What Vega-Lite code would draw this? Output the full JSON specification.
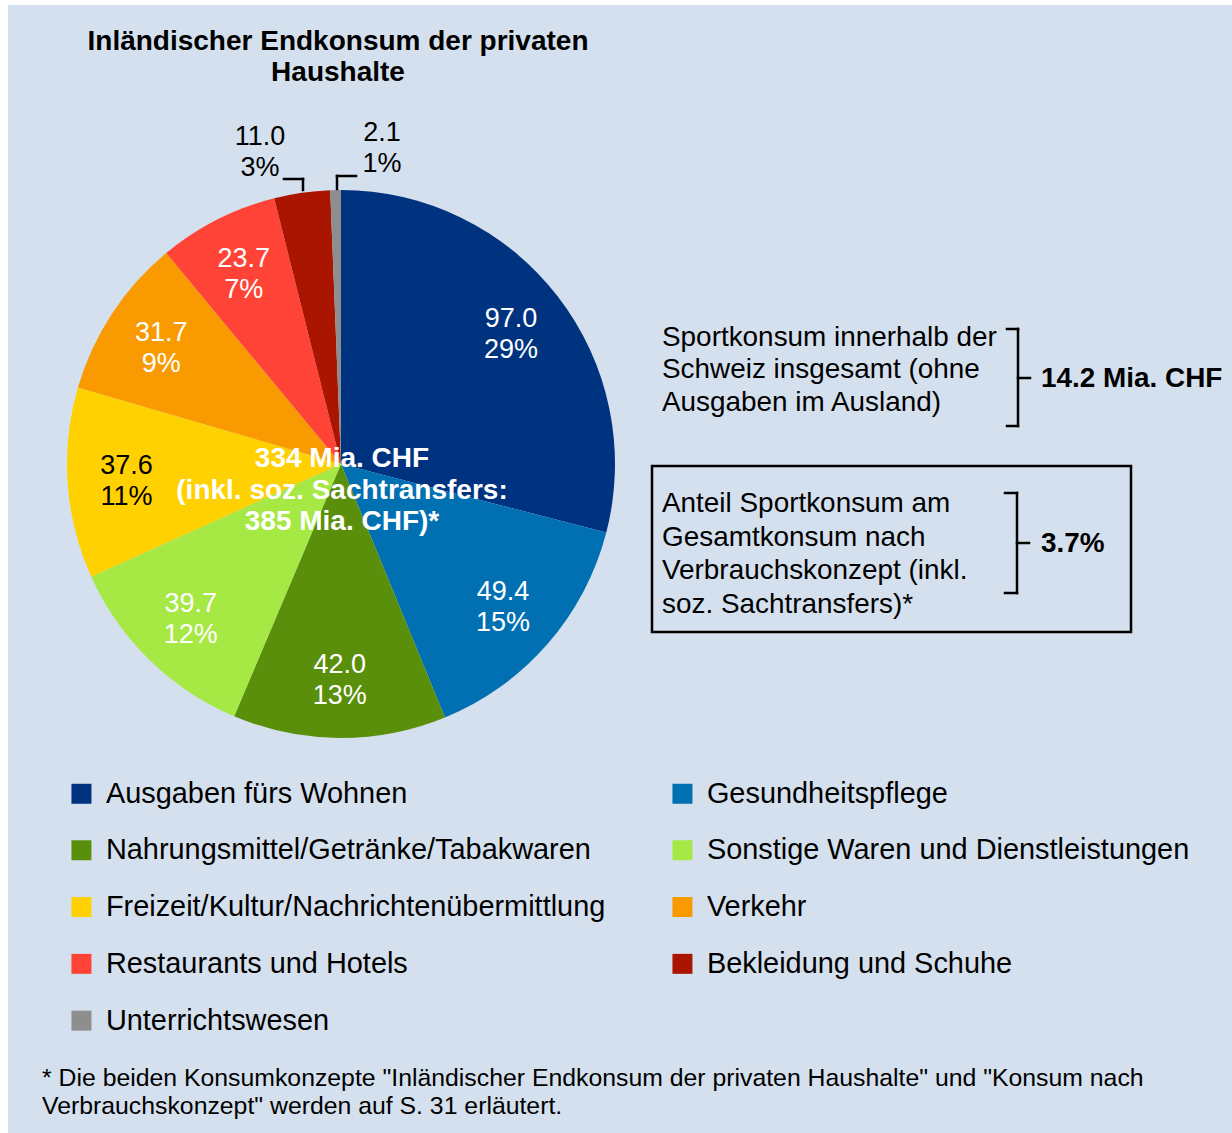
{
  "$schema": "https://vega.github.io/schema/vega-lite/v6.json",
  "width": 1224,
  "height": 1128,
  "padding": {"left": 8, "top": 5, "right": 0, "bottom": 0},
  "autosize": {"type": "none"},
  "background": "white",
  "view": {"fill": "#d5e0ee", "stroke": null},
  "config": {"font": "Liberation Sans", "text": {"font": "Liberation Sans"}},
  "data": {
    "values": [
      {"category": "Ausgaben fürs Wohnen", "value": 97.0, "label": "97.0\n29%", "rank": 1},
      {"category": "Gesundheitspflege", "value": 49.4, "label": "49.4\n15%", "rank": 2},
      {"category": "Nahrungsmittel/Getränke/Tabakwaren", "value": 42.0, "label": "42.0\n13%", "rank": 3},
      {"category": "Sonstige Waren und Dienstleistungen", "value": 39.7, "label": "39.7\n12%", "rank": 4},
      {"category": "Freizeit/Kultur/Nachrichtenübermittlung", "value": 37.6, "label": "37.6\n11%", "rank": 5},
      {"category": "Verkehr", "value": 31.7, "label": "31.7\n9%", "rank": 6},
      {"category": "Restaurants und Hotels", "value": 23.7, "label": "23.7\n7%", "rank": 7},
      {"category": "Bekleidung und Schuhe", "value": 11.0, "label": "11.0\n3%", "rank": 8},
      {"category": "Unterrichtswesen", "value": 2.1, "label": "2.1\n1%", "rank": 9}
    ]
  },
  "layer": [
    {
      "mark": {"type": "arc", "radius": 274},
      "encoding": {
        "x": {"datum": 341, "type": "quantitative", "scale": {"domain": [8, 1232], "nice": false, "zero": false}, "axis": null},
        "y": {"datum": 464, "type": "quantitative", "scale": {"domain": [5, 1133], "nice": false, "zero": false, "reverse": true}, "axis": null},
        "theta": {"field": "value", "type": "quantitative", "stack": true},
        "order": {"field": "rank", "type": "quantitative"},
        "color": {
          "field": "category",
          "type": "nominal",
          "scale": {
            "domain": ["Ausgaben fürs Wohnen", "Nahrungsmittel/Getränke/Tabakwaren", "Freizeit/Kultur/Nachrichtenübermittlung", "Restaurants und Hotels", "Unterrichtswesen", "Gesundheitspflege", "Sonstige Waren und Dienstleistungen", "Verkehr", "Bekleidung und Schuhe"],
            "range": ["#00337f", "#5a8f0b", "#ffd100", "#ff4437", "#8e8e8e", "#0070b3", "#a6e844", "#f99a00", "#aa1500"]
          },
          "legend": {
            "orient": "none", "legendX": 59, "legendY": 774, "columns": 2, "columnPadding": 62, "rowPadding": 26.8,
            "symbolType": "square", "symbolSize": 400, "symbolStrokeWidth": 0, "symbolOpacity": 1,
            "labelFont": "Liberation Sans", "labelFontSize": 28.9, "labelColor": "black", "labelOffset": 10,
            "labelLimit": 1000, "title": null, "padding": 0
          }
        }
      }
    },
    {
      "mark": {"type": "text", "radius": 215, "fontSize": 27, "lineBreak": "\n", "lineHeight": 31, "align": "center", "baseline": "middle", "dy": -13.5},
      "encoding": {
        "x": {"datum": 341, "type": "quantitative", "axis": null},
        "y": {"datum": 464, "type": "quantitative", "axis": null},
        "theta": {"field": "value", "type": "quantitative", "stack": true},
        "order": {"field": "rank", "type": "quantitative"},
        "text": {"field": "label"},
        "color": {"condition": {"test": "datum.category === 'Freizeit/Kultur/Nachrichtenübermittlung'", "value": "black"}, "value": "white"},
        "opacity": {"condition": {"test": "datum.value < 15", "value": 0}, "value": 1}
      }
    },
    {
      "transform": [{"filter": "datum.category === 'Bekleidung und Schuhe'"}],
      "mark": {"type": "text", "fontSize": 27, "lineBreak": "\n", "lineHeight": 31, "align": "center", "baseline": "middle", "color": "black"},
      "encoding": {
        "x": {"datum": 260, "type": "quantitative", "axis": null},
        "y": {"datum": 137, "type": "quantitative", "axis": null},
        "text": {"field": "label"}
      }
    },
    {
      "transform": [{"filter": "datum.category === 'Unterrichtswesen'"}],
      "mark": {"type": "text", "fontSize": 27, "lineBreak": "\n", "lineHeight": 31.5, "align": "center", "baseline": "middle", "color": "black"},
      "encoding": {
        "x": {"datum": 382, "type": "quantitative", "axis": null},
        "y": {"datum": 132.5, "type": "quantitative", "axis": null},
        "text": {"field": "label"}
      }
    },
    {"data": {"values": [{}]}, "mark": {"type": "rule", "color": "black", "strokeWidth": 2.5, "strokeCap": "square"},
     "encoding": {"x": {"datum": 284, "type": "quantitative", "axis": null}, "x2": {"datum": 303}, "y": {"datum": 179, "type": "quantitative", "axis": null}}},
    {"data": {"values": [{}]}, "mark": {"type": "rule", "color": "black", "strokeWidth": 2.5, "strokeCap": "square"},
     "encoding": {"x": {"datum": 303, "type": "quantitative", "axis": null}, "y": {"datum": 179, "type": "quantitative", "axis": null}, "y2": {"datum": 190}}},
    {"data": {"values": [{}]}, "mark": {"type": "rule", "color": "black", "strokeWidth": 2.5, "strokeCap": "square"},
     "encoding": {"x": {"datum": 337, "type": "quantitative", "axis": null}, "y": {"datum": 176, "type": "quantitative", "axis": null}, "y2": {"datum": 189}}},
    {"data": {"values": [{}]}, "mark": {"type": "rule", "color": "black", "strokeWidth": 2.5, "strokeCap": "square"},
     "encoding": {"x": {"datum": 337, "type": "quantitative", "axis": null}, "x2": {"datum": 356}, "y": {"datum": 176, "type": "quantitative", "axis": null}}},
    {"data": {"values": [{"t": "Inländischer Endkonsum der privaten\nHaushalte"}]},
     "mark": {"type": "text", "fontSize": 28, "fontWeight": "bold", "lineBreak": "\n", "lineHeight": 31, "align": "center", "baseline": "middle", "color": "black"},
     "encoding": {"x": {"datum": 338, "type": "quantitative", "axis": null}, "y": {"datum": 42, "type": "quantitative", "axis": null}, "text": {"field": "t"}}},
    {"data": {"values": [{"t": "334 Mia. CHF\n(inkl. soz. Sachtransfers:\n385 Mia. CHF)*"}]},
     "mark": {"type": "text", "fontSize": 28, "fontWeight": "bold", "lineBreak": "\n", "lineHeight": 31.5, "align": "center", "baseline": "middle", "color": "white"},
     "encoding": {"x": {"datum": 342, "type": "quantitative", "axis": null}, "y": {"datum": 459, "type": "quantitative", "axis": null}, "text": {"field": "t"}}},
    {"data": {"values": [{"t": "Sportkonsum innerhalb der\nSchweiz insgesamt (ohne\nAusgaben im Ausland)"}]},
     "mark": {"type": "text", "fontSize": 27.9, "lineBreak": "\n", "lineHeight": 32.3, "align": "left", "baseline": "middle", "color": "black"},
     "encoding": {"x": {"datum": 662, "type": "quantitative", "axis": null}, "y": {"datum": 338, "type": "quantitative", "axis": null}, "text": {"field": "t"}}},
    {"data": {"values": [{"t": "14.2 Mia. CHF"}]},
     "mark": {"type": "text", "fontSize": 27.9, "fontWeight": "bold", "align": "left", "baseline": "middle", "color": "black"},
     "encoding": {"x": {"datum": 1041, "type": "quantitative", "axis": null}, "y": {"datum": 379, "type": "quantitative", "axis": null}, "text": {"field": "t"}}},
    {"data": {"values": [{}]}, "mark": {"type": "rect", "fillOpacity": 0, "stroke": "black", "strokeWidth": 2.5},
     "encoding": {"x": {"datum": 652, "type": "quantitative", "axis": null}, "x2": {"datum": 1131}, "y": {"datum": 466, "type": "quantitative", "axis": null}, "y2": {"datum": 632}}},
    {"data": {"values": [{"t": "Anteil Sportkonsum am\nGesamtkonsum nach\nVerbrauchskonzept (inkl.\nsoz. Sachtransfers)*"}]},
     "mark": {"type": "text", "fontSize": 27.9, "lineBreak": "\n", "lineHeight": 33.7, "align": "left", "baseline": "middle", "color": "black"},
     "encoding": {"x": {"datum": 662, "type": "quantitative", "axis": null}, "y": {"datum": 504, "type": "quantitative", "axis": null}, "text": {"field": "t"}}},
    {"data": {"values": [{"t": "3.7%"}]},
     "mark": {"type": "text", "fontSize": 27.9, "fontWeight": "bold", "align": "left", "baseline": "middle", "color": "black"},
     "encoding": {"x": {"datum": 1041, "type": "quantitative", "axis": null}, "y": {"datum": 544, "type": "quantitative", "axis": null}, "text": {"field": "t"}}},
    {"data": {"values": [{}]}, "mark": {"type": "rule", "color": "black", "strokeWidth": 2.5, "strokeCap": "square"},
     "encoding": {"x": {"datum": 1007, "type": "quantitative", "axis": null}, "x2": {"datum": 1018}, "y": {"datum": 329, "type": "quantitative", "axis": null}}},
    {"data": {"values": [{}]}, "mark": {"type": "rule", "color": "black", "strokeWidth": 2.5, "strokeCap": "square"},
     "encoding": {"x": {"datum": 1018, "type": "quantitative", "axis": null}, "y": {"datum": 329, "type": "quantitative", "axis": null}, "y2": {"datum": 426}}},
    {"data": {"values": [{}]}, "mark": {"type": "rule", "color": "black", "strokeWidth": 2.5, "strokeCap": "square"},
     "encoding": {"x": {"datum": 1007, "type": "quantitative", "axis": null}, "x2": {"datum": 1018}, "y": {"datum": 426, "type": "quantitative", "axis": null}}},
    {"data": {"values": [{}]}, "mark": {"type": "rule", "color": "black", "strokeWidth": 2.5, "strokeCap": "square"},
     "encoding": {"x": {"datum": 1018, "type": "quantitative", "axis": null}, "x2": {"datum": 1030}, "y": {"datum": 378, "type": "quantitative", "axis": null}}},
    {"data": {"values": [{}]}, "mark": {"type": "rule", "color": "black", "strokeWidth": 2.5, "strokeCap": "square"},
     "encoding": {"x": {"datum": 1005, "type": "quantitative", "axis": null}, "x2": {"datum": 1017}, "y": {"datum": 493, "type": "quantitative", "axis": null}}},
    {"data": {"values": [{}]}, "mark": {"type": "rule", "color": "black", "strokeWidth": 2.5, "strokeCap": "square"},
     "encoding": {"x": {"datum": 1017, "type": "quantitative", "axis": null}, "y": {"datum": 493, "type": "quantitative", "axis": null}, "y2": {"datum": 593}}},
    {"data": {"values": [{}]}, "mark": {"type": "rule", "color": "black", "strokeWidth": 2.5, "strokeCap": "square"},
     "encoding": {"x": {"datum": 1005, "type": "quantitative", "axis": null}, "x2": {"datum": 1017}, "y": {"datum": 593, "type": "quantitative", "axis": null}}},
    {"data": {"values": [{}]}, "mark": {"type": "rule", "color": "black", "strokeWidth": 2.5, "strokeCap": "square"},
     "encoding": {"x": {"datum": 1017, "type": "quantitative", "axis": null}, "x2": {"datum": 1029}, "y": {"datum": 543, "type": "quantitative", "axis": null}}},
    {"data": {"values": [{"t": "* Die beiden Konsumkonzepte \"Inländischer Endkonsum der privaten Haushalte\" und \"Konsum nach\nVerbrauchskonzept\" werden auf S. 31 erläutert."}]},
     "mark": {"type": "text", "fontSize": 24.8, "lineBreak": "\n", "lineHeight": 28, "align": "left", "baseline": "middle", "color": "black"},
     "encoding": {"x": {"datum": 42, "type": "quantitative", "axis": null}, "y": {"datum": 1079, "type": "quantitative", "axis": null}, "text": {"field": "t"}}}
  ]
}
